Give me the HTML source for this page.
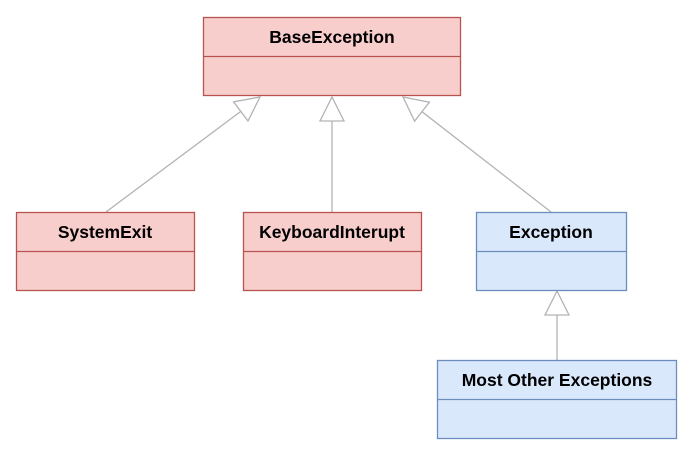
<!DOCTYPE html>
<html><head><style>
body{margin:0;background:#fff;width:698px;height:458px;overflow:hidden}
svg text{font-family:"Liberation Sans",Arial,sans-serif;font-weight:bold;font-size:17.5px;text-anchor:middle}
</style></head><body>
<svg width="698" height="458" xmlns="http://www.w3.org/2000/svg">
<g stroke="#b3b3b3" stroke-width="1.3" fill="none">
<line x1="106" y1="212" x2="240.8" y2="111.4"/>
<line x1="332" y1="212" x2="332" y2="121"/>
<line x1="551" y1="212" x2="422" y2="111.7"/>
<line x1="557" y1="360" x2="557" y2="315"/>
</g>
<g stroke="#b3b3b3" stroke-width="1.3" fill="#fff">
<polygon points="260,97 248,121 233.6,101.8"/>
<polygon points="332,97 320,121 344,121"/>
<polygon points="403,97 429.4,102.2 414.6,121.2"/>
<polygon points="557,291 545,315 569,315"/>
</g>
<g fill="#f8cecc" stroke="#b85450" stroke-width="1.3">
<rect x="203.5" y="17.5" width="257" height="78"/><line x1="203.5" y1="56.5" x2="460.5" y2="56.5"/>
<rect x="16.5" y="212.5" width="178" height="78"/><line x1="16.5" y1="251.5" x2="194.5" y2="251.5"/>
<rect x="243.5" y="212.5" width="178" height="78"/><line x1="243.5" y1="251.5" x2="421.5" y2="251.5"/>
</g>
<g fill="#dae8fc" stroke="#6c8ebf" stroke-width="1.3">
<rect x="476.5" y="212.5" width="150" height="78"/><line x1="476.5" y1="251.5" x2="626.5" y2="251.5"/>
<rect x="437.5" y="360.5" width="239" height="78"/><line x1="437.5" y1="399.5" x2="676.5" y2="399.5"/>
</g>
<text x="332" y="43">BaseException</text>
<text x="105" y="238">SystemExit</text>
<text x="332" y="238">KeyboardInterupt</text>
<text x="551" y="238">Exception</text>
<text x="557" y="386">Most Other Exceptions</text>
</svg>
</body></html>
